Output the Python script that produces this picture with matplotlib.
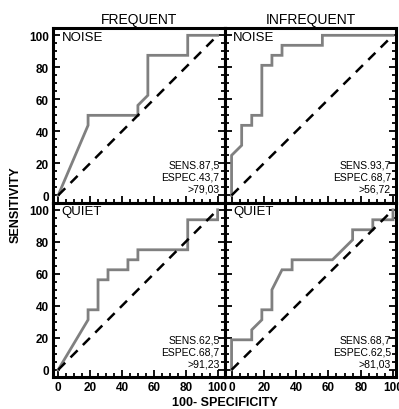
import matplotlib
matplotlib.use("Agg")
import matplotlib.pyplot as plt
from matplotlib.ticker import MultipleLocator

plt.rcParams['font.family'] = ['Liberation Sans', 'DejaVu Sans']

# ROC curves: x = 100 - specificity, y = sensitivity
freq_noise_x = [0, 18.75, 18.75, 50, 50, 56.25, 56.25, 81.25, 81.25, 100]
freq_noise_y = [0, 43.75, 50, 50, 56.25, 62.5, 87.5, 87.5, 100, 100]

infreq_noise_x = [0, 0, 6.25, 6.25, 12.5, 12.5, 18.75, 18.75, 25, 25, 31.25, 31.25, 56.25, 56.25, 100]
infreq_noise_y = [0, 25, 31.25, 43.75, 43.75, 50, 50, 81.25, 81.25, 87.5, 87.5, 93.75, 93.75, 100, 100]

freq_quiet_x = [0, 18.75, 18.75, 25, 25, 31.25, 31.25, 43.75, 43.75, 50, 50, 81.25, 81.25, 100, 100]
freq_quiet_y = [0, 31.25, 37.5, 37.5, 56.25, 56.25, 62.5, 62.5, 68.75, 68.75, 75, 75, 93.75, 93.75, 100]

infreq_quiet_x = [0, 0, 12.5, 12.5, 18.75, 18.75, 25, 25, 31.25, 37.5, 37.5, 62.5, 75, 75, 87.5, 87.5, 100, 100]
infreq_quiet_y = [0, 18.75, 18.75, 25, 31.25, 37.5, 37.5, 50, 62.5, 62.5, 68.75, 68.75, 81.25, 87.5, 87.5, 93.75, 93.75, 100]

col_titles = ["FREQUENT", "INFREQUENT"]
row_titles = ["NOISE", "QUIET"]
stats = [["SENS.87,5\nESPEC.43,7\n>79,03", "SENS.93,7\nESPEC.68,7\n>56,72"],
         ["SENS.62,5\nESPEC.68,7\n>91,23", "SENS.68,7\nESPEC.62,5\n>81,03"]]
curves = [[(freq_noise_x, freq_noise_y), (infreq_noise_x, infreq_noise_y)],
          [(freq_quiet_x, freq_quiet_y), (infreq_quiet_x, infreq_quiet_y)]]

fig, axes = plt.subplots(2, 2, figsize=(3.99, 4.10), dpi=100)
fig.subplots_adjust(left=0.133, right=0.993, top=0.929, bottom=0.078, wspace=0, hspace=0)

for r in range(2):
    for c in range(2):
        ax = axes[r, c]
        x, y = curves[r][c]
        ax.plot(x, y, color='#808080', lw=2.0, solid_joinstyle='miter')
        ax.plot([0, 100], [0, 100], color='black', lw=1.8, dashes=(4, 3))
        if c == 0:
            ax.set_xlim(-3.2, 104.4)
        else:
            ax.set_xlim(-4.3, 102)
        ax.set_ylim(-4.5, 104.5)
        ax.xaxis.set_major_locator(MultipleLocator(20))
        ax.xaxis.set_minor_locator(MultipleLocator(5))
        ax.yaxis.set_major_locator(MultipleLocator(20))
        ax.yaxis.set_minor_locator(MultipleLocator(5))
        ax.tick_params(which='both', direction='in', left=True, right=True,
                       bottom=True, top=False, width=1.3)
        ax.tick_params(which='major', length=5)
        ax.tick_params(which='minor', length=3)
        ax.tick_params(labelleft=(c == 0), labelbottom=(r == 1), labelsize=8.5, pad=3)
        for lab in ax.get_xticklabels() + ax.get_yticklabels():
            lab.set_fontweight('bold')
        for sp in ax.spines.values():
            sp.set_linewidth(2.2)
        ax.text(0.05, 0.985, row_titles[r], transform=ax.transAxes, fontsize=9.5,
                ha='left', va='top')
        ax.text(0.97, 0.05, stats[r][c], transform=ax.transAxes, fontsize=7.5,
                ha='right', va='bottom', linespacing=1.25)
        if r == 0:
            ax.set_title(col_titles[c], fontsize=10, pad=4)

fig.text(0.038, 0.5, "SENSITIVITY", rotation=90, fontsize=9, fontweight='bold',
         ha='center', va='center')
fig.text(0.563, 0.018, "100- SPECIFICITY", fontsize=9, fontweight='bold',
         ha='center', va='center')

fig.savefig("out.png", dpi=100)
